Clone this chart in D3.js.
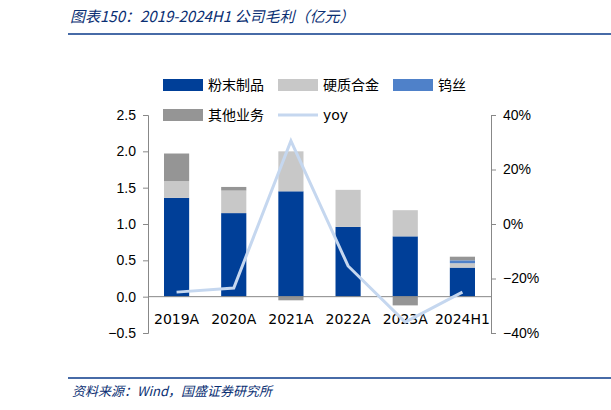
<!DOCTYPE html>
<html><head><meta charset="utf-8">
<script src="https://cdn.jsdelivr.net/npm/d3@7"></script>
<style>body{margin:0;background:#fff}</style>
</head><body><div id="wrapper"></div>
<script>
const categories = ['2019A','2020A','2021A','2022A','2023A','2024H1'];
const powder = [1.36, 1.15, 1.45, 0.96, 0.83, 0.40];
const hardAlloy = [0.23, 0.31, 0.55, 0.51, 0.36, 0.06];
const tungstenWire = [0, 0, 0, 0, 0, 0.04];
const otherBiz = [0.38, 0.05, -0.05, 0, -0.12, 0.05];
const yoy = [-0.25, -0.235, 0.305, -0.154, -0.36, -0.25];
const leftTicks = [-0.5, 0, 0.5, 1, 1.5, 2, 2.5];
const rightTicks = [-0.4, -0.2, 0, 0.2, 0.4];

const W = 611, H = 410;
const svg = d3.select('#wrapper').append('svg').attr('width', W).attr('height', H)
  .style('font-family', 'Verdana, "DejaVu Sans", sans-serif');

const x = d3.scaleBand().domain(categories).range([148, 491]).paddingInner(0.56).paddingOuter(0.28);
const y = d3.scaleLinear().domain([-0.5, 2.5]).range([333, 115]);
const y2 = d3.scaleLinear().domain([-0.4, 0.4]).range([333, 115]);

// header / footer
svg.append('text').attr('x', 70).attr('y', 22).text('图表150：2019-2024H1 公司毛利（亿元）')
  .attr('font-size', 15).attr('font-style', 'italic').attr('fill', '#0a2f73')
  .style('font-family', '"Noto Sans CJK SC", sans-serif');
svg.append('line').attr('x1', 68).attr('x2', 611).attr('y1', 34).attr('y2', 34).attr('stroke', '#0a3a8a').attr('stroke-width', 1.5);
svg.append('line').attr('x1', 68).attr('x2', 611).attr('y1', 378).attr('y2', 378).attr('stroke', '#0a3a8a').attr('stroke-width', 1.5);
svg.append('text').attr('x', 72).attr('y', 396).text('资料来源：Wind，国盛证券研究所')
  .attr('font-size', 13).attr('font-style', 'italic').attr('fill', '#0a2f73')
  .style('font-family', '"Noto Sans CJK SC", sans-serif');

// axes
const gl = svg.append('g').attr('transform', 'translate(148,0)')
  .call(d3.axisLeft(y).tickValues(leftTicks).tickFormat(d3.format('.1f')).tickSizeOuter(0).tickSize(5));
const gr = svg.append('g').attr('transform', 'translate(491,0)')
  .call(d3.axisRight(y2).tickValues(rightTicks).tickFormat(d3.format('.0%')).tickSizeOuter(0).tickSize(5));
[gl, gr].forEach(g => {
  g.selectAll('path,line').attr('stroke', '#888');
  g.selectAll('text').attr('font-size', 14).attr('fill', '#000');
});
gl.selectAll('text').attr('x', -12);
gr.selectAll('text').attr('x', 12);

// stacks
const series = [
  {vals: powder, color: '#003f98'},
  {vals: hardAlloy, color: '#c8c8c8'},
  {vals: tungstenWire, color: '#4f81c9'},
  {vals: otherBiz, color: '#959595'}
];
categories.forEach((c, i) => {
  let pos = 0, neg = 0;
  series.forEach(s => {
    const v = s.vals[i];
    if (!v) return;
    let y0, y1;
    if (v > 0) { y0 = pos; y1 = pos + v; pos = y1; } else { y0 = neg + v; y1 = neg; neg = y0; }
    svg.append('rect').attr('x', x(c)).attr('width', x.bandwidth())
      .attr('y', y(y1)).attr('height', y(y0) - y(y1)).attr('fill', s.color);
  });
});

svg.append('line').attr('x1', 148).attr('x2', 491).attr('y1', y(0)).attr('y2', y(0)).attr('stroke', '#888');

// category labels
categories.forEach(c => {
  svg.append('text').attr('x', x(c) + x.bandwidth() / 2).attr('y', y(0) + 27).attr('text-anchor', 'middle')
    .attr('font-size', 14).text(c);
});

// yoy line
svg.append('path').datum(yoy)
  .attr('d', d3.line().x((d, i) => x(categories[i]) + x.bandwidth() / 2).y(d => y2(d)))
  .attr('fill', 'none').attr('stroke', '#c5d7ef').attr('stroke-width', 3);

// legend
const legend = [
  {t: '粉末制品', c: '#003f98', x: 163, y: 85, type: 'rect'},
  {t: '硬质合金', c: '#c8c8c8', x: 278, y: 85, type: 'rect'},
  {t: '钨丝', c: '#4f81c9', x: 393, y: 85, type: 'rect'},
  {t: '其他业务', c: '#959595', x: 163, y: 115, type: 'rect'},
  {t: 'yoy', c: '#c5d7ef', x: 278, y: 115, type: 'line'}
];
legend.forEach(l => {
  if (l.type === 'rect') svg.append('rect').attr('x', l.x).attr('y', l.y - 6).attr('width', 40).attr('height', 12).attr('fill', l.c);
  else svg.append('line').attr('x1', l.x).attr('x2', l.x + 40).attr('y1', l.y).attr('y2', l.y).attr('stroke', l.c).attr('stroke-width', 3);
  svg.append('text').attr('x', l.x + 45).attr('y', l.y + 5).attr('font-size', 14).text(l.t)
    .style('font-family', l.t === 'yoy' ? 'Verdana, "DejaVu Sans", sans-serif' : '"Noto Sans CJK SC", sans-serif');
});
</script></body></html>
